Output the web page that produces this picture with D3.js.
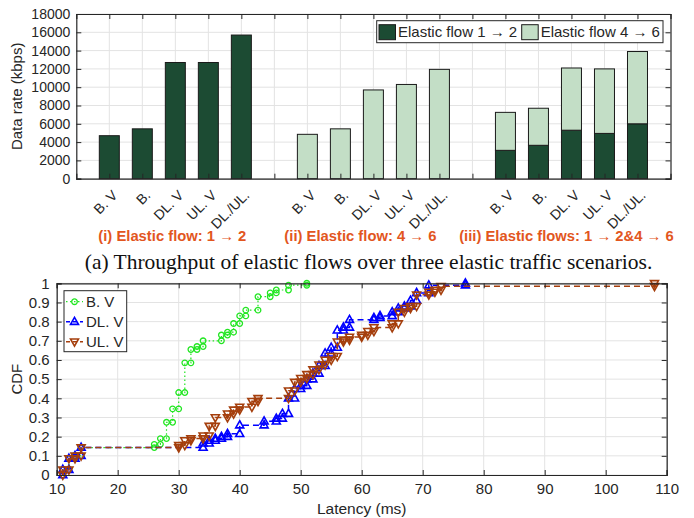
<!DOCTYPE html>
<html>
<head>
<meta charset="utf-8">
<script src="https://cdn.jsdelivr.net/npm/d3@7"></script>
<style>
  body { margin: 0; background: #fff; }
  svg { display: block; font-family: "Liberation Sans", Arial, sans-serif; }
</style>
</head>
<body>
<div id="chart"></div>
<script>
// ---- data: top chart (kbps) ----
const categories = ["B. V", "B.", "DL. V", "UL. V", "DL./UL."];
const flow12Alone = [4700, 5450, 12700, 12700, 15700];
const flow46Alone = [4850, 5450, 9700, 10300, 11950];
const flow12Both = [3100, 3650, 5300, 4950, 6000];
const flow46Both = [4150, 4050, 6800, 7050, 7900];
const groupLabels = ["(i) Elastic flow: 1 \u2192 2", "(ii) Elastic flow: 4 \u2192 6", "(iii) Elastic flows: 1 \u2192 2&4 \u2192 6"];
const rateTicks = [0, 2000, 4000, 6000, 8000, 10000, 12000, 14000, 16000, 18000];

// ---- data: bottom chart (latency ms -> CDF after the step) ----
const bvLatency = [11, 12, 13, 14, 26, 27, 28, 29, 30, 31, 32, 33, 34, 37, 38, 39, 40, 41, 43, 45, 46, 48, 51];
const bvCdf = [0.028, 0.086, 0.10, 0.143, 0.16, 0.19, 0.275, 0.345, 0.43, 0.585, 0.655, 0.67, 0.70, 0.73, 0.745, 0.79, 0.83, 0.86, 0.93, 0.95, 0.965, 0.99, 1.0];
const dlLatency = [11, 12, 13, 14, 34, 35, 36, 37, 38, 40, 44, 46, 47, 48, 49, 50, 51, 52, 53, 54, 55, 56, 57, 58, 62, 63, 65, 66, 67, 68, 69, 71, 77];
const dlCdf = [0.028, 0.086, 0.10, 0.143, 0.165, 0.18, 0.19, 0.20, 0.215, 0.26, 0.28, 0.295, 0.32, 0.40, 0.45, 0.466, 0.50, 0.53, 0.57, 0.635, 0.665, 0.755, 0.77, 0.81, 0.82, 0.83, 0.85, 0.87, 0.88, 0.91, 0.95, 0.99, 1.0];
const ulLatency = [11, 12, 13, 14, 30, 31, 32, 34, 35, 36, 38, 39, 40, 42, 43, 48, 49, 50, 51, 52, 53, 54, 55, 56, 57, 58, 60, 61, 62, 65, 66, 67, 68, 69, 71, 72, 73, 108];
const ulCdf = [0.028, 0.086, 0.10, 0.143, 0.155, 0.18, 0.19, 0.205, 0.255, 0.30, 0.32, 0.34, 0.355, 0.385, 0.40, 0.44, 0.485, 0.505, 0.525, 0.55, 0.575, 0.60, 0.62, 0.695, 0.705, 0.72, 0.73, 0.75, 0.77, 0.79, 0.85, 0.87, 0.88, 0.94, 0.955, 0.965, 0.985, 1.0];

const latencyTicks = [10, 20, 30, 40, 50, 60, 70, 80, 90, 100, 110];
const cdfTicks = [0, 0.1, 0.2, 0.3, 0.4, 0.5, 0.6, 0.7, 0.8, 0.9, 1];

const W = 694, H = 518;
const textColor = "#262626";
const gridColor = "#e3e3e3";
const darkGreen = "#1c4b33";
const lightGreen = "#c3dec6";
const orange = "#e2561e";

const svg = d3.select("#chart").append("svg")
  .attr("width", W)
  .attr("height", H);

svg.append("rect").attr("width", W).attr("height", H).attr("fill", "#fff");

// ================= Top: bar chart =================
const box1 = { left: 76.3, right: 670.5, top: 14, bottom: 178.7 };
const xSlot = d3.scaleLinear().domain([0, 18]).range([box1.left, box1.right]);
const yRate = d3.scaleLinear().domain([0, 18000]).range([box1.bottom, box1.top]);
const slotTicks = d3.range(1, 18);
const slotLabel = s => (s % 6 === 0 ? "" : categories[(s % 6) - 1]);
const barW = 20;

const g1 = svg.append("g");

// grid
g1.selectAll(".hgrid").data(rateTicks).join("line")
  .attr("x1", box1.left).attr("x2", box1.right)
  .attr("y1", d => yRate(d)).attr("y2", d => yRate(d))
  .attr("stroke", gridColor).attr("stroke-width", 1);
g1.selectAll(".vgrid").data(slotTicks).join("line")
  .attr("x1", d => xSlot(d)).attr("x2", d => xSlot(d))
  .attr("y1", box1.top).attr("y2", box1.bottom)
  .attr("stroke", gridColor).attr("stroke-width", 1);

// bars
const barRows = [];
categories.forEach((c, i) => {
  barRows.push({ slot: 1 + i, y0: 0, y1: flow12Alone[i], fill: darkGreen });
  barRows.push({ slot: 7 + i, y0: 0, y1: flow46Alone[i], fill: lightGreen });
  barRows.push({ slot: 13 + i, y0: 0, y1: flow12Both[i], fill: darkGreen });
  barRows.push({ slot: 13 + i, y0: flow12Both[i], y1: flow12Both[i] + flow46Both[i], fill: lightGreen });
});
g1.selectAll(".bar").data(barRows).join("rect")
  .attr("x", d => xSlot(d.slot) - barW / 2)
  .attr("width", barW)
  .attr("y", d => yRate(d.y1))
  .attr("height", d => yRate(d.y0) - yRate(d.y1))
  .attr("fill", d => d.fill)
  .attr("stroke", "#1a1a1a")
  .attr("stroke-width", 1);

// axes (MATLAB style, inward ticks on all sides)
function styleAxis(sel) {
  sel.selectAll("path").attr("stroke", textColor).attr("stroke-width", 1.2);
  sel.selectAll("line").attr("stroke", textColor).attr("stroke-width", 1);
  sel.selectAll("text").attr("fill", textColor).attr("font-family", "Liberation Sans, Arial, sans-serif");
}
const yAxis1 = g1.append("g").attr("transform", `translate(${box1.left},0)`)
  .call(d3.axisLeft(yRate).tickValues(rateTicks).tickSize(-5).tickPadding(6).tickFormat(d3.format("d")));
styleAxis(yAxis1);
yAxis1.selectAll("text").attr("font-size", 14);

const yAxis1R = g1.append("g").attr("transform", `translate(${box1.right},0)`)
  .call(d3.axisRight(yRate).tickValues(rateTicks).tickSize(-5).tickFormat(""));
styleAxis(yAxis1R);

const xAxis1T = g1.append("g").attr("transform", `translate(0,${box1.top})`)
  .call(d3.axisTop(xSlot).tickValues(slotTicks).tickSize(-5).tickFormat(""));
styleAxis(xAxis1T);

const xAxis1 = g1.append("g").attr("transform", `translate(0,${box1.bottom})`)
  .call(d3.axisBottom(xSlot).tickValues(slotTicks).tickSize(-5).tickFormat(slotLabel));
styleAxis(xAxis1);
xAxis1.selectAll("text")
  .attr("font-size", 14)
  .attr("text-anchor", "end")
  .attr("dy", "0.35em")
  .attr("y", 0)
  .attr("transform", "translate(5,14) rotate(-45)");

// y label
g1.append("text")
  .attr("transform", `translate(22,${(box1.top + box1.bottom) / 2}) rotate(-90)`)
  .attr("text-anchor", "middle")
  .attr("font-size", 15)
  .attr("fill", textColor)
  .text("Data rate (kbps)");

// group labels
const groupCenters = [3, 9, 15];
const groupShift = [-3, -13, -5];
g1.selectAll(".glabel").data(groupLabels).join("text")
  .attr("x", (d, i) => xSlot(groupCenters[i]) + groupShift[i])
  .attr("y", 241)
  .attr("text-anchor", "middle")
  .attr("font-size", 14.8)
  .attr("font-weight", "bold")
  .attr("fill", orange)
  .text(d => d);

// legend
const leg1 = g1.append("g");
leg1.append("rect")
  .attr("x", 376.7).attr("y", 20.7).attr("width", 286.3).attr("height", 22)
  .attr("fill", "#fff").attr("stroke", textColor).attr("stroke-width", 1);
const legItems = [
  { label: "Elastic flow 1 \u2192 2", fill: darkGreen, x: 379 },
  { label: "Elastic flow 4 \u2192 6", fill: lightGreen, x: 521.7 }
];
legItems.forEach(it => {
  leg1.append("rect").attr("x", it.x).attr("y", 24.7).attr("width", 16.5).attr("height", 15)
    .attr("fill", it.fill).attr("stroke", "#1a1a1a").attr("stroke-width", 1);
  leg1.append("text").attr("x", it.x + 19).attr("y", 37.3)
    .attr("font-size", 15).attr("fill", textColor).text(it.label);
});

// caption
svg.append("text")
  .attr("x", 368.5).attr("y", 269)
  .attr("text-anchor", "middle")
  .attr("font-family", "Liberation Serif, Times New Roman, serif")
  .attr("font-size", 21.5)
  .attr("fill", "#111")
  .text("(a) Throughput of elastic flows over three elastic traffic scenarios.");

// ================= Bottom: CDF chart =================
const box2 = { left: 56.7, right: 666.7, top: 283.3, bottom: 475 };
const xLat = d3.scaleLinear().domain([10, 110]).range([box2.left, box2.right]);
const yCdf = d3.scaleLinear().domain([0, 1]).range([box2.bottom, box2.top]);

const g2 = svg.append("g");
g2.selectAll(".hgrid").data(cdfTicks).join("line")
  .attr("x1", box2.left).attr("x2", box2.right)
  .attr("y1", d => yCdf(d)).attr("y2", d => yCdf(d))
  .attr("stroke", gridColor);
g2.selectAll(".vgrid").data(latencyTicks).join("line")
  .attr("x1", d => xLat(d)).attr("x2", d => xLat(d))
  .attr("y1", box2.top).attr("y2", box2.bottom)
  .attr("stroke", gridColor);

const series = [
  { name: "B. V", lat: bvLatency, cdf: bvCdf, color: "#22e622", dash: "1.5,2.5", marker: "circle" },
  { name: "DL. V", lat: dlLatency, cdf: dlCdf, color: "#0000ff", dash: "6,4", marker: "up" },
  { name: "UL. V", lat: ulLatency, cdf: ulCdf, color: "#a53f0d", dash: "6,4", marker: "down" }
];

function stairs(s) {
  const pts = [];
  s.lat.forEach((x, i) => {
    pts.push([x, i === 0 ? 0 : s.cdf[i - 1]]);
    pts.push([x, s.cdf[i]]);
  });
  return pts;
}

function markerPath(type) {
  if (type === "up") return "M0,-4.4L4,2.7L-4,2.7Z";
  if (type === "down") return "M0,4.4L4,-2.7L-4,-2.7Z";
  return null;
}

function drawMarker(sel, s) {
  if (s.marker === "circle") {
    sel.append("circle").attr("r", 2.8)
      .attr("fill", "none").attr("stroke", s.color).attr("stroke-width", 1.3);
  } else {
    sel.append("path").attr("d", markerPath(s.marker))
      .attr("fill", "none").attr("stroke", s.color).attr("stroke-width", 1.6)
      .attr("stroke-linejoin", "miter");
  }
}

const line = d3.line().x(d => xLat(d[0])).y(d => yCdf(d[1]));

series.forEach(s => {
  const pts = stairs(s);
  const gs = g2.append("g");
  gs.append("path")
    .attr("d", line(pts))
    .attr("fill", "none")
    .attr("stroke", s.color)
    .attr("stroke-width", s.marker === "circle" ? 1.2 : 1.5)
    .attr("stroke-dasharray", s.dash);
  pts.forEach(p => {
    const m = gs.append("g").attr("transform", `translate(${xLat(p[0])},${yCdf(p[1])})`);
    drawMarker(m, s);
  });
});

const yAxis2 = g2.append("g").attr("transform", `translate(${box2.left},0)`)
  .call(d3.axisLeft(yCdf).tickValues(cdfTicks).tickSize(-5).tickPadding(7).tickFormat(d => d3.format("")(+d.toFixed(1))));
styleAxis(yAxis2);
yAxis2.selectAll("text").attr("font-size", 15);

const yAxis2R = g2.append("g").attr("transform", `translate(${box2.right},0)`)
  .call(d3.axisRight(yCdf).tickValues(cdfTicks).tickSize(-5).tickFormat(""));
styleAxis(yAxis2R);

const xAxis2T = g2.append("g").attr("transform", `translate(0,${box2.top})`)
  .call(d3.axisTop(xLat).tickValues(latencyTicks).tickSize(-5).tickFormat(""));
styleAxis(xAxis2T);

const xAxis2 = g2.append("g").attr("transform", `translate(0,${box2.bottom})`)
  .call(d3.axisBottom(xLat).tickValues(latencyTicks).tickSize(-5).tickPadding(8));
styleAxis(xAxis2);
xAxis2.selectAll("text").attr("font-size", 15);

g2.append("text")
  .attr("transform", `translate(22,${(box2.top + box2.bottom) / 2}) rotate(-90)`)
  .attr("text-anchor", "middle")
  .attr("font-size", 15)
  .attr("fill", textColor)
  .text("CDF");

g2.append("text")
  .attr("x", (box2.left + box2.right) / 2)
  .attr("y", 513.5)
  .attr("text-anchor", "middle")
  .attr("font-size", 15.5)
  .attr("fill", textColor)
  .text("Latency (ms)");

// legend
const leg2 = g2.append("g");
leg2.append("rect")
  .attr("x", 64).attr("y", 290.7).attr("width", 62.7).attr("height", 61)
  .attr("fill", "#fff").attr("stroke", textColor).attr("stroke-width", 1);
series.forEach((s, i) => {
  const y = 301.7 + i * 20;
  leg2.append("line").attr("x1", 66).attr("x2", 83).attr("y1", y).attr("y2", y)
    .attr("stroke", s.color).attr("stroke-width", s.marker === "circle" ? 1.2 : 1.5)
    .attr("stroke-dasharray", s.marker === "circle" ? s.dash : "4,3");
  const m = leg2.append("g").attr("transform", `translate(74.5,${y})`);
  drawMarker(m, s);
  leg2.append("text").attr("x", 86).attr("y", y + 5.3)
    .attr("font-size", 15).attr("fill", textColor).text(s.name);
});
</script>
</body>
</html>
